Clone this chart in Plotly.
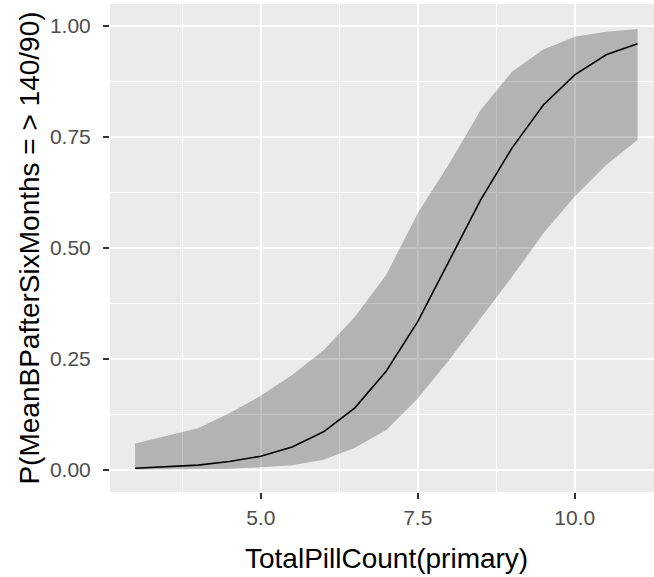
import plotly.graph_objects as go

pill_count = [3.0, 3.5, 4.0, 4.5, 5.0, 5.5, 6.0, 6.5, 7.0, 7.5, 8.0, 8.5, 9.0, 9.5, 10.0, 10.5, 11.0]
prob_fit = [0.004, 0.007, 0.011, 0.019, 0.031, 0.052, 0.086, 0.140, 0.223, 0.334, 0.472, 0.608, 0.725, 0.822, 0.890, 0.935, 0.960]
prob_upper = [0.060, 0.077, 0.094, 0.128, 0.167, 0.214, 0.270, 0.345, 0.440, 0.578, 0.690, 0.810, 0.897, 0.947, 0.976, 0.987, 0.993]
prob_lower = [0.0005, 0.001, 0.002, 0.003, 0.006, 0.011, 0.023, 0.050, 0.090, 0.161, 0.248, 0.342, 0.435, 0.533, 0.616, 0.687, 0.743]

x_ticks = [5.0, 7.5, 10.0]
y_ticks = [0.0, 0.25, 0.5, 0.75, 1.0]

fig = go.Figure()
fig.add_trace(go.Scatter(x=pill_count, y=prob_lower, mode="lines",
                         line=dict(width=0, color="rgba(0,0,0,0)"),
                         showlegend=False, hoverinfo="skip"))
fig.add_trace(go.Scatter(x=pill_count, y=prob_upper, mode="lines",
                         line=dict(width=0, color="rgba(0,0,0,0)"),
                         fill="tonexty", fillcolor="rgba(0,0,0,0.24)",
                         showlegend=False, hoverinfo="skip"))
fig.add_trace(go.Scatter(x=pill_count, y=prob_fit, mode="lines",
                         line=dict(width=1.6, color="black"),
                         showlegend=False))

font_family = "Liberation Sans, Arial, Helvetica, sans-serif"

fig.update_layout(
    width=654, height=577,
    margin=dict(l=110, r=0, t=4, b=85, autoexpand=False),
    paper_bgcolor="white",
    plot_bgcolor="#EBEBEB",
    font=dict(family=font_family, color="#4D4D4D", size=21),
    showlegend=False,
    annotations=[dict(
        text="TotalPillCount(primary)", xref="paper", yref="paper",
        x=276.5 / 544, y=0, xanchor="center", yanchor="top", yshift=-49,
        showarrow=False, font=dict(size=28, color="black", family=font_family),
    )],
)
fig.update_xaxes(
    range=[2.6, 11.262],
    tickvals=x_ticks, ticktext=[f"{v:.1f}" for v in x_ticks],
    ticks="outside", ticklen=6, tickwidth=2, tickcolor="#333333",
    tickfont=dict(size=21, color="#4D4D4D"),
    ticklabelstandoff=1,
    showgrid=True, gridcolor="white", gridwidth=2,
    minor=dict(tickvals=[3.75, 6.25, 8.75, 11.25], showgrid=True, gridcolor="white", gridwidth=1, ticks=""),
    zeroline=False, showline=False,
    automargin=False,
)
fig.update_yaxes(
    range=[-0.0495, 1.0495],
    tickvals=y_ticks, ticktext=[f"{v:.2f}" for v in y_ticks],
    ticks="outside", ticklen=6, tickwidth=2, tickcolor="#333333",
    tickfont=dict(size=21, color="#4D4D4D"),
    ticklabelstandoff=8,
    showgrid=True, gridcolor="white", gridwidth=2,
    minor=dict(tickvals=[0.125, 0.375, 0.625, 0.875], showgrid=True, gridcolor="white", gridwidth=1, ticks=""),
    zeroline=False, showline=False,
    title=dict(text="P(MeanBPafterSixMonths = > 140/90)", font=dict(size=28, color="black"), standoff=2),
    automargin=False,
)

fig.write_html("out.html", config={"displayModeBar": False},
               post_script="document.body.style.margin='0';")
